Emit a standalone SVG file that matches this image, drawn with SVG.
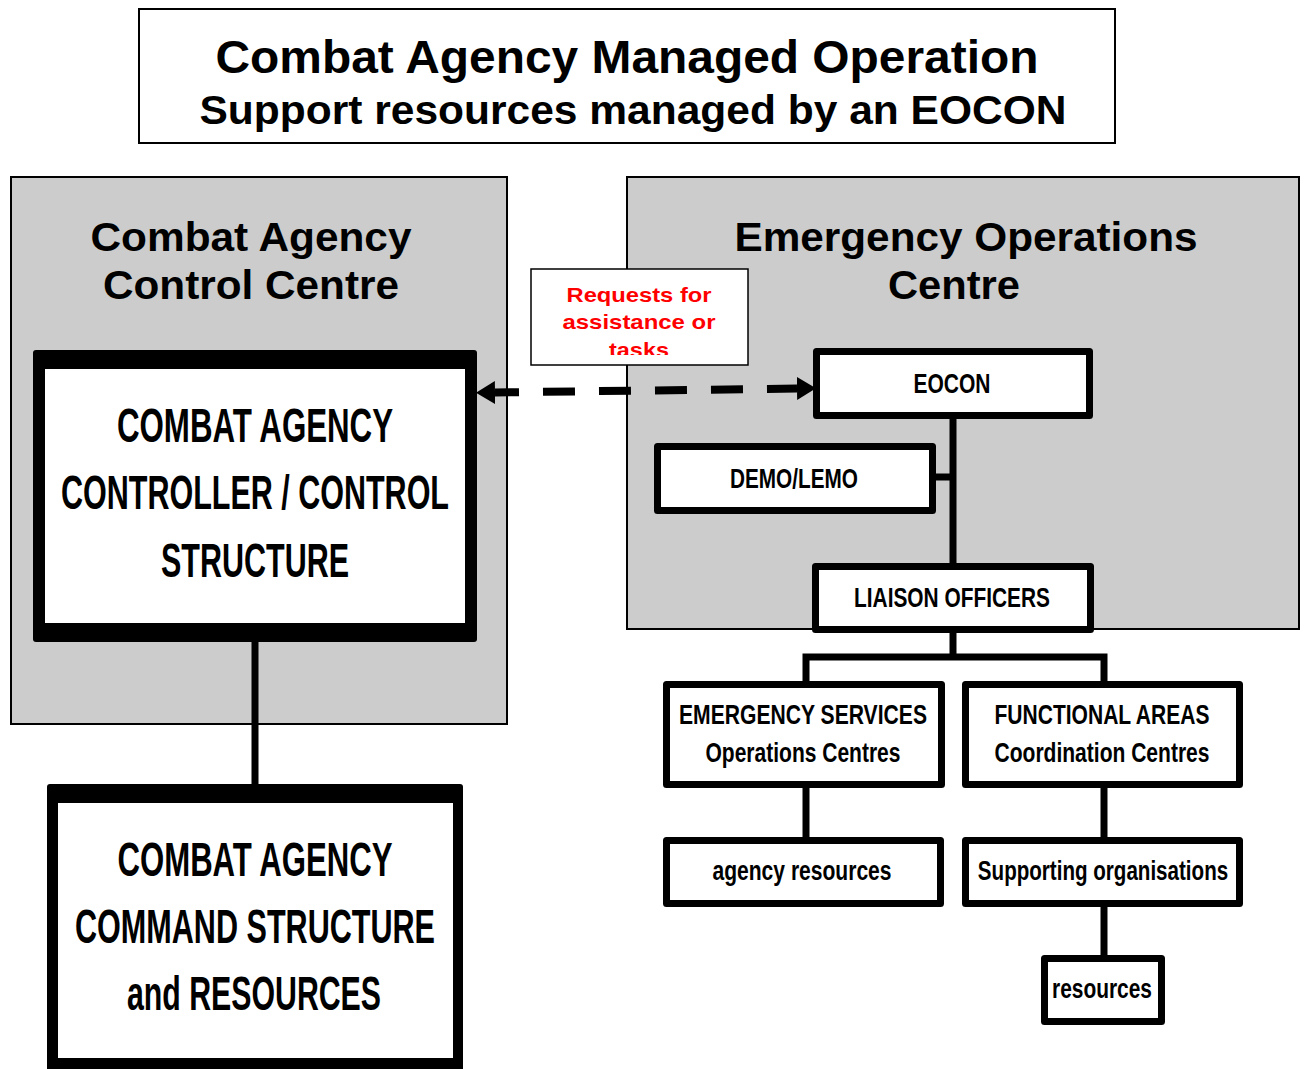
<svg xmlns="http://www.w3.org/2000/svg" width="1307" height="1069" viewBox="0 0 1307 1069">
<style>
text{font-family:"Liberation Sans",Arial,sans-serif;font-weight:bold;text-anchor:middle;fill:#000}
.panel{fill:#cccccc;stroke:#000;stroke-width:2}
.box{fill:#fff;stroke:#000;stroke-width:7;stroke-linejoin:round}
.conn{fill:none;stroke:#000;stroke-width:7}
.big{font-size:48px}
.small{font-size:28px}
.red{fill:#ff0000;font-size:21px}
</style>
<defs>
<marker id="ah" markerUnits="userSpaceOnUse" markerWidth="20" markerHeight="24" refX="0" refY="11.5" orient="auto-start-reverse">
<path d="M0,0 L19,11.5 L0,23 z" fill="#000"/>
</marker>
<clipPath id="reqclip"><rect x="531" y="269" width="217" height="86"/></clipPath>
</defs>

<g id="title">
<rect x="139" y="9" width="976" height="134" fill="#fff" stroke="#000" stroke-width="2"/>
<text x="627" y="73" font-size="46" textLength="823" lengthAdjust="spacingAndGlyphs">Combat Agency Managed Operation</text>
<text x="633" y="124" font-size="40" textLength="867" lengthAdjust="spacingAndGlyphs">Support resources managed by an EOCON</text>
</g>

<g id="panel-left">
<rect class="panel" x="11" y="177" width="496" height="547"/>
<text x="251" y="251" font-size="40" textLength="321" lengthAdjust="spacingAndGlyphs">Combat Agency</text>
<text x="251" y="299" font-size="40" textLength="296" lengthAdjust="spacingAndGlyphs">Control Centre</text>
</g>

<g id="panel-right">
<rect class="panel" x="627" y="177" width="672" height="452"/>
<text x="966" y="251" font-size="40" textLength="463" lengthAdjust="spacingAndGlyphs">Emergency Operations</text>
<text x="954" y="299" font-size="40" textLength="132" lengthAdjust="spacingAndGlyphs">Centre</text>
</g>

<g id="connectors">
<line class="conn" x1="255" y1="641" x2="255" y2="786" stroke-width="8"/>
<line class="conn" x1="953" y1="417" x2="953" y2="566" stroke-width="6"/>
<line class="conn" x1="934" y1="477" x2="953" y2="477"/>
<line class="conn" x1="953" y1="631" x2="953" y2="657" stroke-width="6"/>
<path class="conn" d="M806 684 V657 H1104 V684"/>
<line class="conn" x1="806" y1="786" x2="806" y2="840"/>
<line class="conn" x1="1104" y1="786" x2="1104" y2="840"/>
<line class="conn" x1="1104" y1="905" x2="1104" y2="958"/>
<path d="M495 392.5 L797 388.5" fill="none" stroke="#000" stroke-width="8" stroke-dasharray="32 24" stroke-dashoffset="8" marker-start="url(#ah)" marker-end="url(#ah)"/>
</g>

<g id="requests">
<rect x="531" y="269" width="217" height="96" fill="#fff" stroke="#000" stroke-width="1.5"/>
<g clip-path="url(#reqclip)">
<text class="red" x="639" y="302" textLength="145" lengthAdjust="spacingAndGlyphs">Requests for</text>
<text class="red" x="639" y="329" textLength="153" lengthAdjust="spacingAndGlyphs">assistance or</text>
<text class="red" x="639" y="357" textLength="60" lengthAdjust="spacingAndGlyphs">tasks</text>
</g>
</g>

<g id="controller">
<rect x="33" y="350" width="444" height="292" rx="3" fill="#000"/>
<rect x="45" y="369" width="420" height="254" fill="#fff"/>
<text class="big" x="255" y="442" textLength="276" lengthAdjust="spacingAndGlyphs">COMBAT AGENCY</text>
<text class="big" x="255" y="509" textLength="388" lengthAdjust="spacingAndGlyphs">CONTROLLER / CONTROL</text>
<text class="big" x="255" y="577" textLength="188" lengthAdjust="spacingAndGlyphs">STRUCTURE</text>
</g>

<g id="command">
<rect x="47" y="784" width="416" height="295" rx="3" fill="#000"/>
<rect x="58" y="803" width="395" height="255" fill="#fff"/>
<text class="big" x="255" y="876" font-size="46" textLength="275" lengthAdjust="spacingAndGlyphs">COMBAT AGENCY</text>
<text class="big" x="255" y="943" font-size="46" textLength="360" lengthAdjust="spacingAndGlyphs">COMMAND STRUCTURE</text>
<text class="big" x="254" y="1010" font-size="46" textLength="254" lengthAdjust="spacingAndGlyphs">and RESOURCES</text>
</g>

<g id="eocon">
<rect class="box" x="816.5" y="351.5" width="273" height="64"/>
<text class="small" x="952" y="393" textLength="77" lengthAdjust="spacingAndGlyphs">EOCON</text>
</g>

<g id="demo-lemo">
<rect class="box" x="657.5" y="446.5" width="275" height="64"/>
<text class="small" x="794" y="488" textLength="128" lengthAdjust="spacingAndGlyphs">DEMO/LEMO</text>
</g>

<g id="liaison">
<rect class="box" x="815.5" y="566.5" width="275" height="63"/>
<text class="small" x="952" y="607" textLength="196" lengthAdjust="spacingAndGlyphs">LIAISON OFFICERS</text>
</g>

<g id="emergency-services">
<rect class="box" x="666.5" y="684.5" width="275" height="100"/>
<text class="small" x="803" y="724" textLength="248" lengthAdjust="spacingAndGlyphs">EMERGENCY SERVICES</text>
<text class="small" x="803" y="762" textLength="195" lengthAdjust="spacingAndGlyphs">Operations Centres</text>
</g>

<g id="functional-areas">
<rect class="box" x="965.5" y="684.5" width="274" height="100"/>
<text class="small" x="1102" y="724" textLength="215" lengthAdjust="spacingAndGlyphs">FUNCTIONAL AREAS</text>
<text class="small" x="1102" y="762" textLength="215" lengthAdjust="spacingAndGlyphs">Coordination Centres</text>
</g>

<g id="agency-resources">
<rect class="box" x="666.5" y="840.5" width="274" height="63"/>
<text class="small" x="802" y="880" textLength="179" lengthAdjust="spacingAndGlyphs">agency resources</text>
</g>

<g id="supporting-organisations">
<rect class="box" x="965.5" y="840.5" width="274" height="63"/>
<text class="small" transform="translate(1103 880) scale(0.735 1)" x="0" y="0">Supporting organisations</text>
</g>

<g id="resources">
<rect class="box" x="1044.5" y="958.5" width="117" height="63"/>
<text class="small" x="1102" y="998" textLength="100" lengthAdjust="spacingAndGlyphs">resources</text>
</g>
</svg>
